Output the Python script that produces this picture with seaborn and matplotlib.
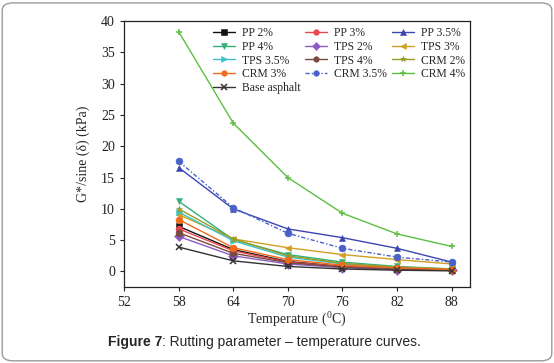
import matplotlib.pyplot as plt
import seaborn as sns
import pandas as pd
from matplotlib.patches import FancyBboxPatch

sns.set_style("ticks")
plt.rcParams['font.family'] = ['Liberation Serif', 'DejaVu Serif']
plt.rcParams['mathtext.fontset'] = 'stix'

# Data
temperature = [58, 64, 70, 76, 82, 88]

pp_2 = [7.2, 3.5, 1.6, 0.8, 0.4, 0.2]
pp_3 = [6.8, 3.3, 1.5, 0.8, 0.4, 0.2]
pp_35 = [16.6, 10.0, 6.8, 5.4, 3.7, 1.5]
pp_4 = [11.2, 5.1, 2.7, 1.5, 0.8, 0.4]
tps_2 = [5.6, 2.5, 1.2, 0.6, 0.3, 0.2]
tps_3 = [9.1, 5.2, 3.8, 2.7, 1.9, 1.2]
tps_35 = [9.5, 4.9, 2.3, 1.2, 0.6, 0.3]
tps_4 = [6.2, 2.9, 1.4, 0.7, 0.4, 0.2]
crm_2 = [10.0, 5.2, 2.5, 1.3, 0.7, 0.4]
crm_3 = [8.3, 3.8, 1.9, 1.0, 0.6, 0.3]
crm_35 = [17.6, 10.2, 6.1, 3.7, 2.3, 1.5]
crm_4 = [38.3, 23.7, 15.0, 9.3, 6.0, 4.0]
base = [3.9, 1.7, 0.8, 0.4, 0.2, 0.1]

labels = ["PP 2%", "PP 3%", "PP 3.5%", "PP 4%", "TPS 2%", "TPS 3%",
          "TPS 3.5%", "TPS 4%", "CRM 2%", "CRM 3%", "CRM 3.5%", "CRM 4%",
          "Base asphalt"]
series = [pp_2, pp_3, pp_35, pp_4, tps_2, tps_3, tps_35, tps_4,
          crm_2, crm_3, crm_35, crm_4, base]
colors = ["#111111", "#e8474d", "#3b46b0", "#33b07a", "#8e5cc4", "#d2a020",
          "#3cc4c8", "#7a4a40", "#9a9a28", "#f26a1b", "#4a62c8", "#5cc040",
          "#333333"]
markers = ["s", "o", "^", "v", "D", "<", ">", "o", "*", "o", "o", "+", "x"]

rows = []
for lab, vals in zip(labels, series):
    for t, v in zip(temperature, vals):
        rows.append({"Temperature": t, "G": v, "Material": lab})
df = pd.DataFrame(rows)

fig = plt.figure(figsize=(5.54, 3.63), dpi=100)
ax = fig.add_axes([0.224, 0.209, 0.624, 0.733])

for lab, col, mk in zip(labels, colors, markers):
    sub = df[df["Material"] == lab]
    ls = (0, (3, 1.5, 1, 1.5)) if lab == "CRM 3.5%" else "-"
    thin = mk in ("+", "x")
    sns.lineplot(data=sub, x="Temperature", y="G", ax=ax, color=col,
                 marker=mk, markersize=5, markeredgecolor=col,
                 markeredgewidth=1.1 if thin else 0.4,
                 linewidth=1.0, linestyle=ls, label=lab)

ax.set_xlim(52, 90)
ax.set_ylim(-2.5, 40)
ax.set_xticks([52, 58, 64, 70, 76, 82, 88])
ax.set_yticks([0, 5, 10, 15, 20, 25, 30, 35, 40])
ax.tick_params(labelsize=10, length=3, width=0.8, colors="#222222")
ax.set_xlabel(r"Temperature ($\mathregular{^0}$C)", fontsize=10, labelpad=1)
ax.set_ylabel("G*/sine (δ) (kPa)", fontsize=10, labelpad=8)
for s in ax.spines.values():
    s.set_visible(True)
    s.set_color("#222222")
    s.set_linewidth(0.9)

handles, hl = ax.get_legend_handles_labels()
order = [0, 3, 6, 9, 12, 1, 4, 7, 10, 2, 5, 8, 11]
ax.legend([handles[i] for i in order], [hl[i] for i in order], ncol=3,
          loc="upper right", bbox_to_anchor=(1.0, 0.995), frameon=False,
          fontsize=8.4, handlelength=1.9, handletextpad=0.6, markerscale=0.8,
          columnspacing=0.4, labelspacing=0.15, borderaxespad=0.0)

# caption and border
fig.patches.append(FancyBboxPatch((0.004, 0.006), 0.992, 0.986,
                                  boxstyle="round,pad=0,rounding_size=0.02",
                                  transform=fig.transFigure, facecolor="none",
                                  edgecolor="#9a9a9a", linewidth=1.0))
t1 = fig.text(0.195, 0.058, "Figure 7", fontsize=10, fontweight="bold",
              family="Liberation Sans", va="center")
ax.annotate(": Rutting parameter \u2013 temperature curves.", xy=(1, 0.5),
            xycoords=t1, va="center", ha="left", fontsize=10,
            family="Liberation Sans", annotation_clip=False)

fig.savefig("out.png", dpi=100)
